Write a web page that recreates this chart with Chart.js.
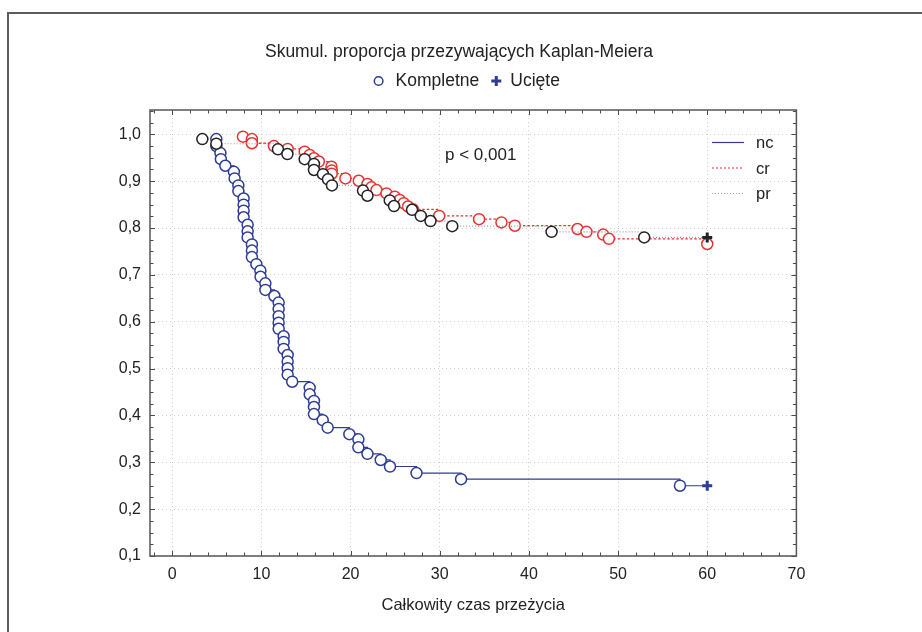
<!DOCTYPE html>
<html><head><meta charset="utf-8">
<script src="https://cdn.jsdelivr.net/npm/chart.js@4.4.1/dist/chart.umd.min.js"></script>
<style>
html,body{margin:0;padding:0;background:#fff;}
#wrap{position:relative;width:922px;height:632px;overflow:hidden;background:#fff;}
#frame{position:absolute;left:7px;top:12px;width:940px;height:660px;border-top:2px solid #5c5c5c;border-left:2px solid #5c5c5c;}
canvas{position:absolute;left:0;top:0;}
</style></head><body>
<div id="wrap"><div id="frame"></div><canvas id="c" width="922" height="632"></canvas></div>
<script>
// ---- data ----
const xTicks = [0, 10, 20, 30, 40, 50, 60, 70];
const yTicks = [0.1, 0.2, 0.3, 0.4, 0.5, 0.6, 0.7, 0.8, 0.9, 1.0];

// nc (blue, solid)
const ncTime = [4.94,4.94,5.4,5.45,5.95,6.91,6.99,7.41,7.41,8.0,8.0,8.0,8.0,8.45,8.45,8.45,8.93,8.93,8.93,9.43,9.88,9.9,10.44,10.44,11.45,11.93,11.93,11.93,11.93,11.93,12.49,12.49,12.49,12.94,12.94,12.94,12.94,13.45,15.41,15.41,15.89,15.89,15.89,16.87,17.43,19.86,20.87,20.87,21.89,23.38,24.42,27.39,32.39,56.94];
const ncSurv = [0.990,0.975,0.960,0.947,0.933,0.920,0.906,0.891,0.879,0.863,0.850,0.837,0.823,0.807,0.793,0.780,0.765,0.752,0.738,0.723,0.709,0.696,0.682,0.668,0.655,0.641,0.627,0.612,0.598,0.585,0.569,0.557,0.542,0.529,0.515,0.501,0.487,0.472,0.459,0.445,0.431,0.418,0.403,0.390,0.374,0.360,0.349,0.332,0.318,0.305,0.291,0.277,0.264,0.250];
const ncCensTime = [60];
const ncCensSurv = [0.250];

// cr (red, dotted)
const crTime = [7.92,8.93,8.93,11.40,12.94,14.85,15.41,15.89,16.44,17.85,17.88,17.88,19.42,20.91,21.89,22.33,22.90,24.02,24.95,25.51,25.96,26.44,27.00,29.94,34.41,36.92,38.42,45.45,46.46,48.33,48.97,60.0];
const crSurv = [0.995,0.990,0.981,0.975,0.969,0.963,0.956,0.949,0.942,0.931,0.923,0.916,0.906,0.901,0.894,0.887,0.881,0.874,0.867,0.860,0.853,0.846,0.840,0.826,0.819,0.812,0.805,0.798,0.792,0.786,0.777,0.766];
const crCensTime = [];
const crCensSurv = [];

// pr (black markers, grey dotted)
const prTime = [3.37,4.94,11.85,12.91,14.85,15.89,15.89,16.90,17.46,17.91,21.39,21.89,24.39,24.87,26.89,27.87,28.96,31.40,42.54,52.93];
const prSurv = [0.990,0.980,0.968,0.958,0.947,0.937,0.924,0.915,0.904,0.891,0.880,0.869,0.859,0.847,0.839,0.826,0.815,0.804,0.792,0.780];
const prCensTime = [60];
const prCensSurv = [0.780];

const titleText = 'Skumul. proporcja przezywających Kaplan-Meiera';
const legendDone = 'Kompletne';
const legendCens = 'Ucięte';
const xTitle = 'Całkowity czas przeżycia';
const pText = 'p < 0,001';
const seriesNames = ['nc', 'cr', 'pr'];

// ---- styles ----
const FONT = '"Liberation Sans", Arial, sans-serif';
const BLUE = '#2e3c96';
const RED = '#e8312f';
const BLACK = '#222222';
const GREY = '#9a9a9a';

function buildData(times, surv, cT, cS) {
  const pts = times.map((t, i) => ({x: t, y: surv[i]}));
  const styles = times.map(() => 'circle');
  cT.forEach((t, i) => { pts.push({x: t, y: cS[i]}); styles.push('cross'); });
  return {pts, styles};
}

function makeDataset(label, times, surv, cT, cS, lineColor, markColor, dash, lw, order) {
  const d = buildData(times, surv, cT, cS);
  return {
    label, data: d.pts, stepped: 'before', order,
    borderColor: lineColor, borderWidth: lw, borderDash: dash,
    pointStyle: d.styles,
    pointRadius: d.styles.map(s => s === 'cross' ? 5 : 5.5),
    pointBorderWidth: d.styles.map(s => s === 'cross' ? 3 : 1.5),
    pointBorderColor: markColor,
    pointBackgroundColor: '#ffffff',
    pointHoverRadius: 0
  };
}

const datasets = [
  makeDataset('nc', ncTime, ncSurv, ncCensTime, ncCensSurv, BLUE, BLUE, [], 1.2, 3),
  makeDataset('cr', crTime, crSurv, crCensTime, crCensSurv, RED, RED, [2.5, 2], 1.3, 2),
  makeDataset('pr', prTime, prSurv, prCensTime, prCensSurv, GREY, BLACK, [1, 2], 1.2, 1)
];

const decor = {
  id: 'decor',
  beforeDatasetsDraw(chart) {
    const {ctx, chartArea: a, scales: {x, y}} = chart;
    ctx.save();
    ctx.strokeStyle = '#4a4a4a';
    ctx.lineWidth = 1;
    ctx.beginPath();
    for (let k = -1; k <= 35; k++) {
      const px = Math.round(x.getPixelForValue(k * 2)) + 0.5;
      const len = (k * 2) % 10 === 0 ? 5 : 3.5;
      ctx.moveTo(px, a.bottom); ctx.lineTo(px, a.bottom - len);
      ctx.moveTo(px, a.top); ctx.lineTo(px, a.top + len);
    }
    for (let k = 0; k <= 38; k++) {
      const py = Math.round(y.getPixelForValue(0.1 + k * 0.025)) + 0.5;
      const len = k % 4 === 0 ? 5 : 3.5;
      ctx.moveTo(a.left, py); ctx.lineTo(a.left + len, py);
      ctx.moveTo(a.right, py); ctx.lineTo(a.right - len, py);
    }
    ctx.stroke();
    ctx.lineWidth = 1.5;
    ctx.strokeStyle = '#555555';
    ctx.strokeRect(a.left, a.top, a.right - a.left, a.bottom - a.top);
    ctx.restore();
  },
  afterDraw(chart) {
    const ctx = chart.ctx;
    ctx.save();
    ctx.fillStyle = '#222';
    ctx.textBaseline = 'middle';
    ctx.textAlign = 'center';
    ctx.font = '17.5px ' + FONT;
    ctx.fillText(titleText, 459, 52);
    // point legend
    ctx.textAlign = 'left';
    const w1 = ctx.measureText(legendDone).width;
    const w2 = ctx.measureText(legendCens).width;
    const total = 4.5 + 17 + w1 + 17 + 14 + w2;
    let cx = 467 - total / 2 + 4.5;   // circle centre
    const ly = 81;
    ctx.strokeStyle = BLUE; ctx.lineWidth = 1.5;
    ctx.beginPath(); ctx.arc(cx, ly, 4.3, 0, Math.PI * 2); ctx.stroke();
    cx += 17;
    ctx.fillText(legendDone, cx, ly);
    cx += w1 + 17;   // plus centre
    ctx.lineWidth = 3;
    ctx.beginPath();
    ctx.moveTo(cx - 5, ly); ctx.lineTo(cx + 5, ly);
    ctx.moveTo(cx, ly - 5); ctx.lineTo(cx, ly + 5);
    ctx.stroke();
    cx += 14;
    ctx.fillText(legendCens, cx, ly);
    // p value
    ctx.font = '17px ' + FONT;
    ctx.fillText(pText, 445, 155);
    // inner line legend
    ctx.font = '16.5px ' + FONT;
    const rows = [
      {name: seriesNames[0], color: BLUE, dash: [], y: 142},
      {name: seriesNames[1], color: RED, dash: [2, 2], y: 167.5},
      {name: seriesNames[2], color: GREY, dash: [1, 2], y: 193}
    ];
    rows.forEach(r => {
      ctx.save();
      ctx.strokeStyle = r.color; ctx.lineWidth = 1.2; ctx.setLineDash(r.dash);
      ctx.beginPath(); ctx.moveTo(712, r.y + 0.5); ctx.lineTo(744, r.y + 0.5); ctx.stroke();
      ctx.restore();
      ctx.fillText(r.name, 756, r.y + 1.5);
    });
    ctx.restore();
  }
};

Chart.defaults.font.family = FONT;
Chart.defaults.color = '#222';

new Chart(document.getElementById('c'), {
  type: 'line',
  data: {datasets},
  options: {
    responsive: false,
    animation: false,
    events: [],
    layout: {padding: {left: 90, right: 125.6, top: 110, bottom: 12}},
    plugins: {legend: {display: false}, title: {display: false}, tooltip: {enabled: false}},
    scales: {
      x: {
        type: 'linear', min: -2.5, max: 70,
        afterBuildTicks: s => { s.ticks = xTicks.map(v => ({value: v})); },
        afterFit: s => { s.height = 632 - 12 - 556; },
        ticks: {font: {size: 16}, padding: 9, color: '#222', maxRotation: 0, autoSkip: false},
        grid: {color: '#cfcfcf', borderDash: [1, 3], drawTicks: false, lineWidth: 1},
        border: {display: false, dash: [1, 3]},
        title: {display: true, text: xTitle, font: {size: 16.5}, color: '#222', padding: {top: 4, bottom: 5}}
      },
      y: {
        type: 'linear', min: 0.1, max: 1.052,
        afterBuildTicks: s => { s.ticks = yTicks.map(v => ({value: v})); },
        afterFit: s => { s.width = 60; },
        ticks: {font: {size: 16}, padding: 9, color: '#222',
          callback: v => v.toFixed(1).replace('.', ',')},
        grid: {color: '#cfcfcf', drawTicks: false, lineWidth: 1},
        border: {display: false, dash: [1, 3]}
      }
    }
  },
  plugins: [decor]
});
</script>
</body></html>
